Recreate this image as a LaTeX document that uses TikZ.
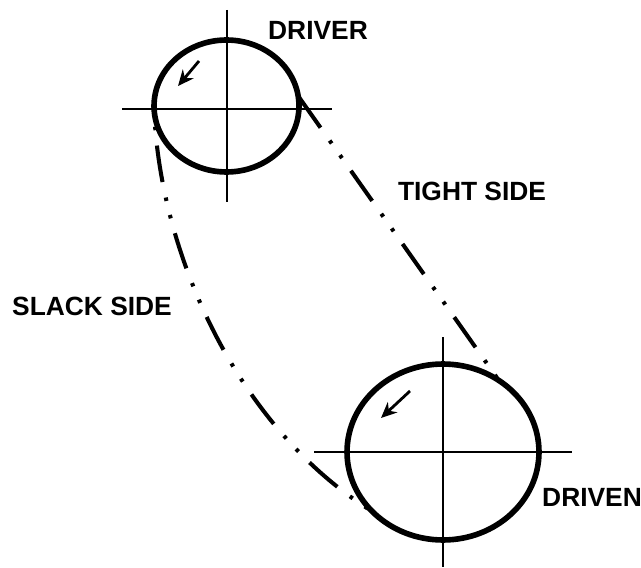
\documentclass[tikz,border=0pt]{standalone}
\usepackage{fontspec}
\setmainfont{Liberation Sans}
\usetikzlibrary{shapes.geometric,arrows.meta}

\tikzset{
  pulley/.style={draw, ellipse, line width=3.2pt, inner sep=0pt, outer sep=0pt},
  axisline/.style={line width=0.8pt},
  belt/.style={line width=2.3pt, dash pattern=on 21pt off 9pt on 2pt off 8.2pt on 2pt off 8.8pt},
  spin/.style={line width=1.6pt, -{Stealth[length=9pt,width=8pt]}},
  tag/.style={font=\fontsize{15}{15}\selectfont\bfseries, inner sep=0pt}
}

\begin{document}
\begin{tikzpicture}[x=0.02cm, y=-0.02cm]

\useasboundingbox (0,0) rectangle (641,567);

\node [pulley, minimum width=2.9cm, minimum height=2.64cm] (driver) at (226.5,106) {};
\node [pulley, minimum width=3.84cm, minimum height=3.52cm] (driven) at (443,452) {};

\coordinate (driverw) at (122,109);
\coordinate (drivere) at (332,109);
\coordinate (drivern) at (227,10);
\coordinate (drivers) at (227,202);
\coordinate (drivenw) at (314,452);
\coordinate (drivene) at (572,452);
\coordinate (drivenn) at (443,337);
\coordinate (drivens) at (443,567);

\begin{scope}[axisline]
\draw (driverw) -- (drivere);
\draw (drivern) -- (drivers);
\draw (drivenw) -- (drivene);
\draw (drivenn) -- (drivens);
\end{scope}

\coordinate (spinafrom) at (199,61);
\coordinate (spinato) at (178,86);
\coordinate (spinbfrom) at (410,391);
\coordinate (spinbto) at (381,418);

\draw [spin] (spinafrom) -- (spinato);
\draw [spin] (spinbfrom) -- (spinbto);

\coordinate (slacka) at (158,245);
\coordinate (slackb) at (232,424);

\draw [belt, dash phase=49.9pt] (driver.8) -- (driven.52);
\draw [belt, dash phase=28.4pt] (driver.west) .. controls (slacka) and (slackb) .. (driven.220);

\node [tag] (drivertag) at (318,30) {DRIVER};
\node [tag] (tighttag) at (472,191) {TIGHT SIDE};
\node [tag] (slacktag) at (92,306) {SLACK SIDE};
\node [tag] (driventag) at (592,497) {DRIVEN};

\end{tikzpicture}
\end{document}
